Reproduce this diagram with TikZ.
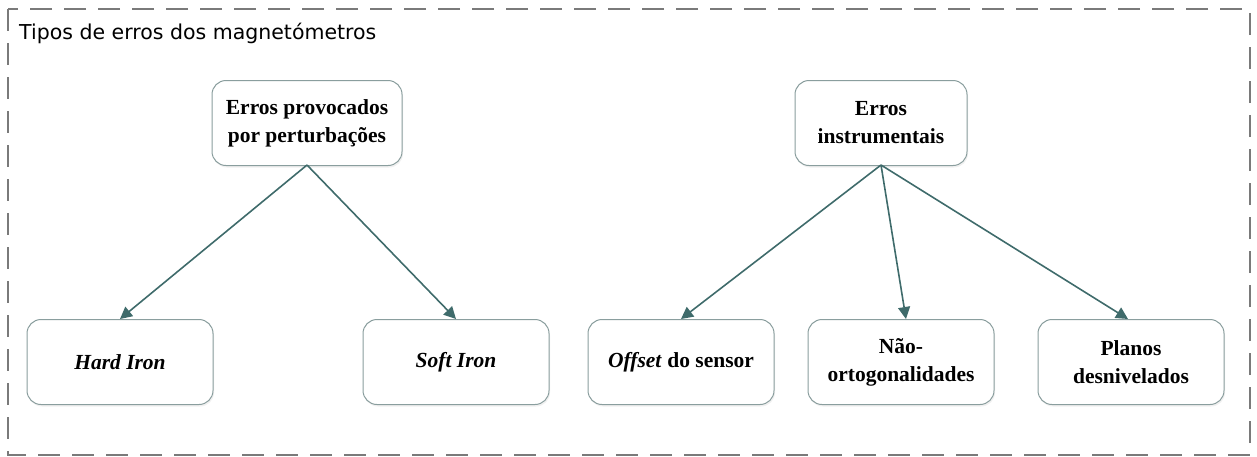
\documentclass[tikz,border=0pt]{standalone}
\usepackage{fontspec}
\setmainfont{Liberation Serif}
\newfontfamily\titlefont{DejaVu Sans}
\usetikzlibrary{arrows.meta,shadows}
\definecolor{arrowc}{HTML}{3F6B6B}
\definecolor{boxc}{HTML}{8A9E9E}
\definecolor{framec}{HTML}{7A7A7A}
\tikzset{
  errbox/.style={draw=boxc, line width=1pt, rounded corners=14pt, fill=white,
    minimum width=186pt, minimum height=85pt, align=center,
    font=\fontsize{21.5}{28}\selectfont\bfseries,
    drop shadow={shadow xshift=1pt, shadow yshift=-2pt, opacity=0.12}},
  conn/.style={draw=arrowc, line width=1.6pt, -{Triangle[length=12pt,width=12pt]}}
}
\begin{document}
\begin{tikzpicture}[x=1pt,y=-1pt]
\useasboundingbox (0,0) rectangle (1257,456);
\draw[framec, line width=1.3pt, dash pattern=on 22pt off 12pt] (8,9) rectangle (1250,455);
\node[anchor=west, font=\titlefont\fontsize{20.5}{24}\selectfont, inner sep=0pt] (title) at (19,33) {Tipos de erros dos magnetómetros};
\node[errbox, minimum width=190pt] (pert) at (307,123) {Erros provocados\\por perturbações};
\node[errbox, minimum width=172pt] (inst) at (881,123) {Erros\\instrumentais};
\node[errbox] (hard) at (120,362) {\textit{Hard Iron}};
\node[errbox] (soft) at (456,362) {\textit{Soft Iron}};
\node[errbox] (off) at (681,362) {\textit{Offset} do sensor};
\node[errbox] (nao) at (901,362) {Não-\\ortogonalidades};
\node[errbox] (plan) at (1131,362) {Planos\\desnivelados};
\coordinate (p0) at (307,165);
\coordinate (i0) at (881,165);
\draw[conn] (p0) -- (hard.north);
\draw[conn] (p0) -- (soft.north);
\draw[conn] (i0) -- (off.north);
\draw[conn] (i0) -- ([xshift=5pt]nao.north);
\draw[conn] (i0) -- ([xshift=-3pt]plan.north);
\end{tikzpicture}
\end{document}
